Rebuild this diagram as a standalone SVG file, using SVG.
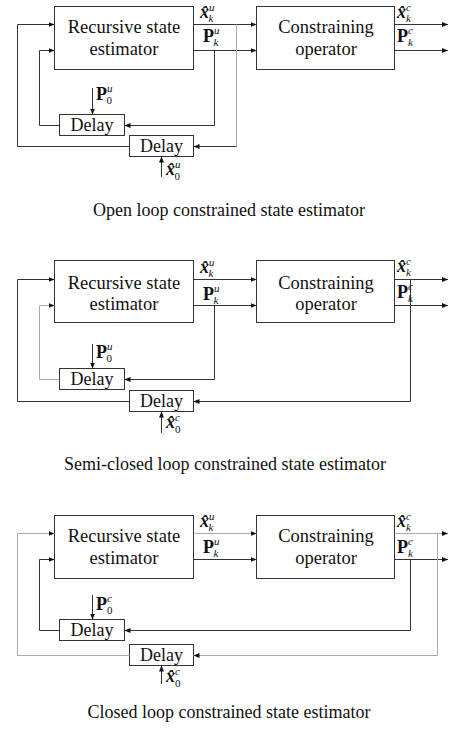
<svg xmlns="http://www.w3.org/2000/svg" width="457" height="736" viewBox="0 0 457 736">
<style>
text{font-family:"Liberation Serif","DejaVu Serif","Times New Roman",serif;fill:#111}
.box{fill:#fff;stroke:#333;stroke-width:1}
.t{font-size:18.5px;text-anchor:middle}
.d{font-size:18px;text-anchor:middle}
.cap{font-size:18px;text-anchor:middle}
.c{fill:none;stroke:#333;stroke-width:1}
.f{fill:none;stroke:#aaa;stroke-width:1}
.mx{font-size:18px;font-weight:bold;font-style:italic}
.mp{font-size:18px;font-weight:bold}
.s{font-size:11px;font-style:italic;font-weight:normal}
.z{font-size:11px;font-style:normal;font-weight:normal}
</style>
<defs>
<marker id="ah" markerUnits="userSpaceOnUse" markerWidth="6" markerHeight="5" refX="6" refY="2.5" orient="auto">
<path d="M0,0 L6,2.5 L0,5 z" fill="#111"/>
</marker>
</defs>
<rect width="457" height="736" fill="#fff"/>

<!-- Panel 1 -->
<g id="rec1"><rect class="box" x="54.5" y="6.5" width="139" height="63"/><text class="t" x="124" y="33">Recursive state</text><text class="t" x="124" y="55">estimator</text></g>
<g id="con1"><rect class="box" x="256.5" y="6.5" width="138" height="63"/><text class="t" x="326" y="33">Constraining</text><text class="t" x="326" y="55">operator</text></g>
<g id="delayA1"><rect class="box" x="59.5" y="114.5" width="65" height="21"/><text class="d" x="92" y="130.5">Delay</text></g>
<g id="delayB1"><rect class="box" x="129.5" y="135.5" width="64" height="21"/><text class="d" x="161.5" y="152">Delay</text></g>

<!-- Panel 2 -->
<g id="rec2"><rect class="box" x="54.5" y="260.5" width="139" height="62"/><text class="t" x="124" y="289">Recursive state</text><text class="t" x="124" y="310">estimator</text></g>
<g id="con2"><rect class="box" x="256.5" y="260.5" width="138" height="62"/><text class="t" x="326" y="289">Constraining</text><text class="t" x="326" y="310">operator</text></g>
<g id="delayA2"><rect class="box" x="59.5" y="368.5" width="65" height="21"/><text class="d" x="92" y="384.5">Delay</text></g>
<g id="delayB2"><rect class="box" x="129.5" y="390.5" width="64" height="21"/><text class="d" x="161.5" y="407">Delay</text></g>

<!-- Panel 3 -->
<g id="rec3"><rect class="box" x="54.5" y="515.5" width="139" height="63"/><text class="t" x="124" y="542">Recursive state</text><text class="t" x="124" y="564">estimator</text></g>
<g id="con3"><rect class="box" x="256.5" y="515.5" width="138" height="63"/><text class="t" x="326" y="542">Constraining</text><text class="t" x="326" y="564">operator</text></g>
<g id="delayA3"><rect class="box" x="59.5" y="619.5" width="65" height="21"/><text class="d" x="92" y="635.5">Delay</text></g>
<g id="delayB3"><rect class="box" x="129.5" y="644.5" width="64" height="21"/><text class="d" x="161.5" y="661">Delay</text></g>

<g id="connectors">
<path class="c" d="M193.5,24.5 H256.5" marker-end="url(#ah)"/>
<path class="c" d="M193.5,50.5 H256.5" marker-end="url(#ah)"/>
<path class="c" d="M394.5,24.5 H448" marker-end="url(#ah)"/>
<path class="c" d="M394.5,50.5 H448" marker-end="url(#ah)"/>
<path class="c" d="M214.5,50.5 V125.5 H124.5" marker-end="url(#ah)"/>
<path class="f" d="M236.5,24.5 V146.5"/>
<path class="c" d="M236.5,146.5 H193.5" marker-end="url(#ah)"/>
<path class="c" d="M59.5,125.5 H39.5 V50.5 H54.5" marker-end="url(#ah)"/>
<path class="c" d="M129.5,146.5 H17.5 V24.5 H54.5" marker-end="url(#ah)"/>
<path class="c" d="M92.5,88 V114.5" marker-end="url(#ah)"/>
<path class="c" d="M161.5,177 V156.5" marker-end="url(#ah)"/>

<path class="c" d="M193.5,279.5 H256.5" marker-end="url(#ah)"/>
<path class="c" d="M193.5,305.5 H256.5" marker-end="url(#ah)"/>
<path class="c" d="M394.5,279.5 H448" marker-end="url(#ah)"/>
<path class="c" d="M394.5,305.5 H448" marker-end="url(#ah)"/>
<path class="c" d="M214.5,305.5 V379.5 H124.5" marker-end="url(#ah)"/>
<path class="c" d="M410.5,279.5 V401.5 H193.5" marker-end="url(#ah)"/>
<path class="f" d="M59.5,379.5 H39.5 V305.5 H54.5" marker-end="url(#ah)"/>
<path class="c" d="M129.5,401.5 H17.5 V279.5 H54.5" marker-end="url(#ah)"/>
<path class="c" d="M92.5,344 V368.5" marker-end="url(#ah)"/>
<path class="c" d="M161.5,433 V411.5" marker-end="url(#ah)"/>

<path class="f" d="M193.5,533.5 H256.5" marker-end="url(#ah)"/>
<path class="c" d="M193.5,559.5 H256.5" marker-end="url(#ah)"/>
<path class="f" d="M394.5,533.5 H448" marker-end="url(#ah)"/>
<path class="c" d="M394.5,559.5 H448" marker-end="url(#ah)"/>
<path class="c" d="M410.5,559.5 V630.5 H124.5" marker-end="url(#ah)"/>
<path class="f" d="M437.5,533.5 V655.5 H193.5" marker-end="url(#ah)"/>
<path class="c" d="M59.5,630.5 H39.5 V559.5 H54.5" marker-end="url(#ah)"/>
<path class="f" d="M129.5,655.5 H17.5 V533.5 H54.5" marker-end="url(#ah)"/>
<path class="c" d="M92.5,595 V619.5" marker-end="url(#ah)"/>
<path class="c" d="M161.5,684 V665.5" marker-end="url(#ah)"/>
</g>

<g id="labels">
<!-- panel 1 -->
<text x="200" y="18"><tspan class="mx">x&#x302;</tspan><tspan class="s" dy="-7">u</tspan><tspan class="s" dx="-6" dy="11">k</tspan></text>
<text x="203" y="42"><tspan class="mp">P</tspan><tspan class="s" dy="-8">u</tspan><tspan class="s" dx="-6" dy="12">k</tspan></text>
<text x="397" y="18"><tspan class="mx">x&#x302;</tspan><tspan class="s" dy="-7">c</tspan><tspan class="s" dx="-5" dy="11">k</tspan></text>
<text x="397" y="42"><tspan class="mp">P</tspan><tspan class="s" dy="-8">c</tspan><tspan class="s" dx="-5" dy="12">k</tspan></text>
<text x="96" y="100"><tspan class="mp">P</tspan><tspan class="s" dy="-8">u</tspan><tspan class="z" dx="-6" dy="12">0</tspan></text>
<text x="166" y="175"><tspan class="mx">x&#x302;</tspan><tspan class="s" dy="-7">u</tspan><tspan class="z" dx="-6" dy="12">0</tspan></text>
<!-- panel 2 -->
<text x="200" y="273"><tspan class="mx">x&#x302;</tspan><tspan class="s" dy="-7">u</tspan><tspan class="s" dx="-6" dy="11">k</tspan></text>
<text x="203" y="300"><tspan class="mp">P</tspan><tspan class="s" dy="-8">u</tspan><tspan class="s" dx="-6" dy="12">k</tspan></text>
<text x="397" y="272"><tspan class="mx">x&#x302;</tspan><tspan class="s" dy="-7">c</tspan><tspan class="s" dx="-5" dy="11">k</tspan></text>
<text x="397" y="298"><tspan class="mp">P</tspan><tspan class="s" dy="-8">c</tspan><tspan class="s" dx="-5" dy="12">k</tspan></text>
<text x="96" y="358"><tspan class="mp">P</tspan><tspan class="s" dy="-8">u</tspan><tspan class="z" dx="-6" dy="12">0</tspan></text>
<text x="166" y="428"><tspan class="mx">x&#x302;</tspan><tspan class="s" dy="-7">c</tspan><tspan class="z" dx="-5" dy="12">0</tspan></text>
<!-- panel 3 -->
<text x="200" y="527"><tspan class="mx">x&#x302;</tspan><tspan class="s" dy="-7">u</tspan><tspan class="s" dx="-6" dy="11">k</tspan></text>
<text x="203" y="553"><tspan class="mp">P</tspan><tspan class="s" dy="-8">u</tspan><tspan class="s" dx="-6" dy="12">k</tspan></text>
<text x="397" y="527"><tspan class="mx">x&#x302;</tspan><tspan class="s" dy="-7">c</tspan><tspan class="s" dx="-5" dy="11">k</tspan></text>
<text x="397" y="553"><tspan class="mp">P</tspan><tspan class="s" dy="-8">c</tspan><tspan class="s" dx="-5" dy="12">k</tspan></text>
<text x="96" y="610"><tspan class="mp">P</tspan><tspan class="s" dy="-8">c</tspan><tspan class="z" dx="-5" dy="12">0</tspan></text>
<text x="166" y="682"><tspan class="mx">x&#x302;</tspan><tspan class="s" dy="-7">c</tspan><tspan class="z" dx="-5" dy="12">0</tspan></text>
</g>

<g id="captions">
<text class="cap" x="229" y="216">Open loop constrained state estimator</text>
<text class="cap" x="225" y="470">Semi-closed loop constrained state estimator</text>
<text class="cap" x="229" y="718">Closed loop constrained state estimator</text>
</g>
</svg>
